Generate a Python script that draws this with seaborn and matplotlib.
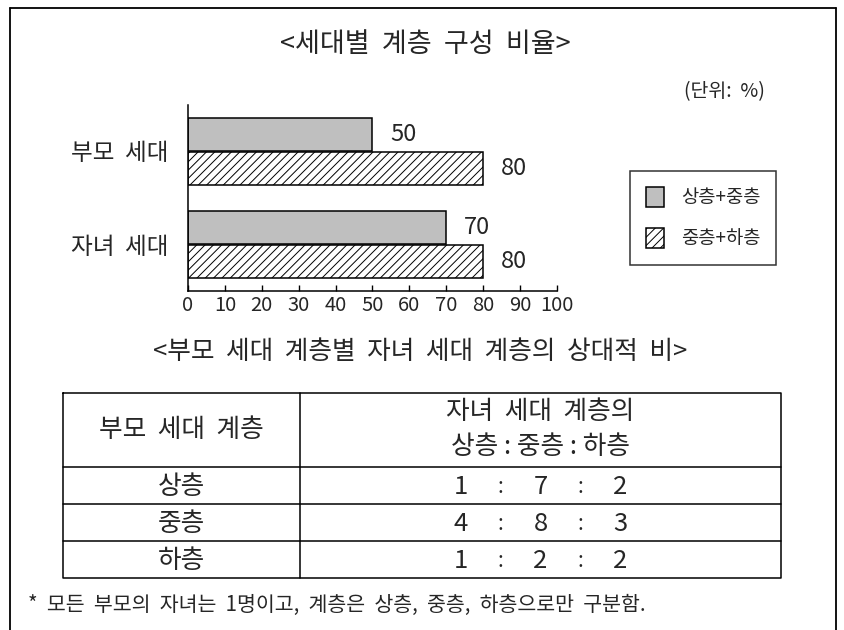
import matplotlib
matplotlib.use("Agg")
import matplotlib.pyplot as plt
from matplotlib import font_manager
from matplotlib.lines import Line2D
import seaborn as sns
import pandas as pd

# chart data
generations = ["부모 세대", "자녀 세대"]
classes = ["상층+중층", "중층+하층"]
upper_mid = [50, 70]
mid_lower = [80, 80]
x_ticks = [0, 10, 20, 30, 40, 50, 60, 70, 80, 90, 100]

# table data
table_rows = ["상층", "중층", "하층"]
child_upper = [1, 4, 1]
child_mid = [7, 8, 2]
child_lower = [2, 3, 2]

title_1 = "<세대별 계층 구성 비율>"
title_2 = "<부모 세대 계층별 자녀 세대 계층의 상대적 비>"
unit_text = "(단위: %)"
note = "* 모든 부모의 자녀는 1명이고, 계층은 상층, 중층, 하층으로만 구분함."


def wide(s):
    # the source font has wide word spaces
    return s.replace(" ", "  ")


sns.set_theme(style="white")
plt.rcParams['font.family'] = ['Noto Sans CJK KR', 'DejaVu Sans']
plt.rcParams['font.weight'] = 'light'
plt.rcParams['hatch.linewidth'] = 0.7
plt.rcParams['hatch.color'] = 'black'

installed = {f.name for f in font_manager.fontManager.ttflist}
narrow = ['Noto Sans CJK KR', 'DejaVu Sans']
for cand in ['Liberation Sans Narrow', 'DejaVu Sans Condensed']:
    if cand in installed:
        narrow = [cand, 'DejaVu Sans']
        break

df = pd.DataFrame({
    "세대": generations * 2,
    "계층": [classes[0]] * 2 + [classes[1]] * 2,
    "비율": upper_mid + mid_lower,
})

W, H = 845, 630
fig = plt.figure(figsize=(W / 100, H / 100), dpi=100)
fig.patch.set_facecolor("white")


def fx(px):
    return px / W


def fy(py):
    return 1 - py / H


# outer frame (open at bottom)
for xs, ys in [((10, 10), (8, 630)), ((836, 836), (8, 630)), ((10, 836), (8, 8))]:
    fig.add_artist(Line2D([fx(v) for v in xs], [fy(v) for v in ys], color="black", lw=1.3))

fig.text(fx(425), fy(45), wide(title_1), ha="center", va="center", fontsize=19.5)
fig.text(fx(765), fy(92), wide(unit_text), ha="right", va="center", fontsize=14)

# ---- bar chart ----
ax = fig.add_axes([fx(188), fy(291), fx(557) - fx(188), fy(105) - fy(291)])
sns.barplot(data=df, y="세대", x="비율", hue="계층", orient="h",
            palette=["#bfbfbf", "white"], edgecolor="black", linewidth=1.1,
            width=0.72, ax=ax, legend=False, saturation=1)
for bar in ax.containers[1]:
    bar.set_hatch("////")
for cont in ax.containers:
    ax.bar_label(cont, padding=13, fontsize=17, family=narrow)

ax.set_xlim(0, 100)
ax.set_ylim(1.5, -0.5)
ax.set_xticks(x_ticks)
ax.set_yticks(range(len(generations)))
ax.set_yticklabels([wide(g) for g in generations])
ax.set_xlabel("")
ax.set_ylabel("")
ax.set_facecolor("white")
for side in ["top", "right"]:
    ax.spines[side].set_visible(False)
for side in ["left", "bottom"]:
    ax.spines[side].set_color("black")
    ax.spines[side].set_linewidth(1.1)
ax.tick_params(axis="x", direction="in", length=4, width=1, color="black",
               labelsize=14.5, pad=3, bottom=True)
for lab in ax.get_xticklabels():
    lab.set_family(narrow)
ax.tick_params(axis="y", length=0, labelsize=17, pad=14)

ax.legend(handles=list(ax.containers), labels=classes, loc="upper left",
          bbox_to_anchor=(fx(630), fy(171)), bbox_transform=fig.transFigure,
          fontsize=13.5, frameon=True, fancybox=False, edgecolor="black",
          handlelength=0.96, handleheight=1.23, handletextpad=0.9,
          labelspacing=1.07, borderpad=0.85, borderaxespad=0)
ax.get_legend().get_frame().set_linewidth(1.1)

# ---- table ----
fig.text(fx(420), fy(352), wide(title_2), ha="center", va="center", fontsize=18.5)

tx = fig.add_axes([fx(63), fy(578), fx(781) - fx(63), fy(393) - fy(578)])
tx.set_xlim(0, 1)
tx.set_ylim(5, 0)
tx.axis("off")
split = (300 - 63) / (781 - 63)
kw = dict(color="black", lw=1.1, clip_on=False)
tx.plot([0, 1, 1, 0, 0], [0, 0, 5, 5, 0], **kw)
tx.plot([split, split], [0, 5], **kw)
for r in range(len(table_rows)):
    tx.plot([0, 1], [2 + r, 2 + r], **kw)

c0 = split / 2
c1 = (split + 1) / 2
tx.text(c0, 1.0, wide("부모 세대 계층"), ha="center", va="center", fontsize=18.5)
tx.text(c1, 0.52, wide("자녀 세대 계층의"), ha="center", va="center", fontsize=18.5)
tx.text(c1, 1.47, "상층 : 중층 : 하층", ha="center", va="center", fontsize=18.5)

step = 80 / (781 - 63)
for i, name in enumerate(table_rows):
    y = 2.55 + i
    tx.text(c0, y, name, ha="center", va="center", fontsize=18.5)
    vals = [child_upper[i], child_mid[i], child_lower[i]]
    for j, v in enumerate(vals):
        tx.text(c1 + (j - 1) * step, y, str(v), ha="center", va="center",
                fontsize=18.5, family=narrow)
    for j in range(2):
        tx.text(c1 + (j - 0.5) * step, y, ":", ha="center", va="center", fontsize=15)

fig.text(fx(28), fy(605), wide(note), ha="left", va="center", fontsize=14.8)

fig.savefig("out.png", dpi=100, facecolor="white")
